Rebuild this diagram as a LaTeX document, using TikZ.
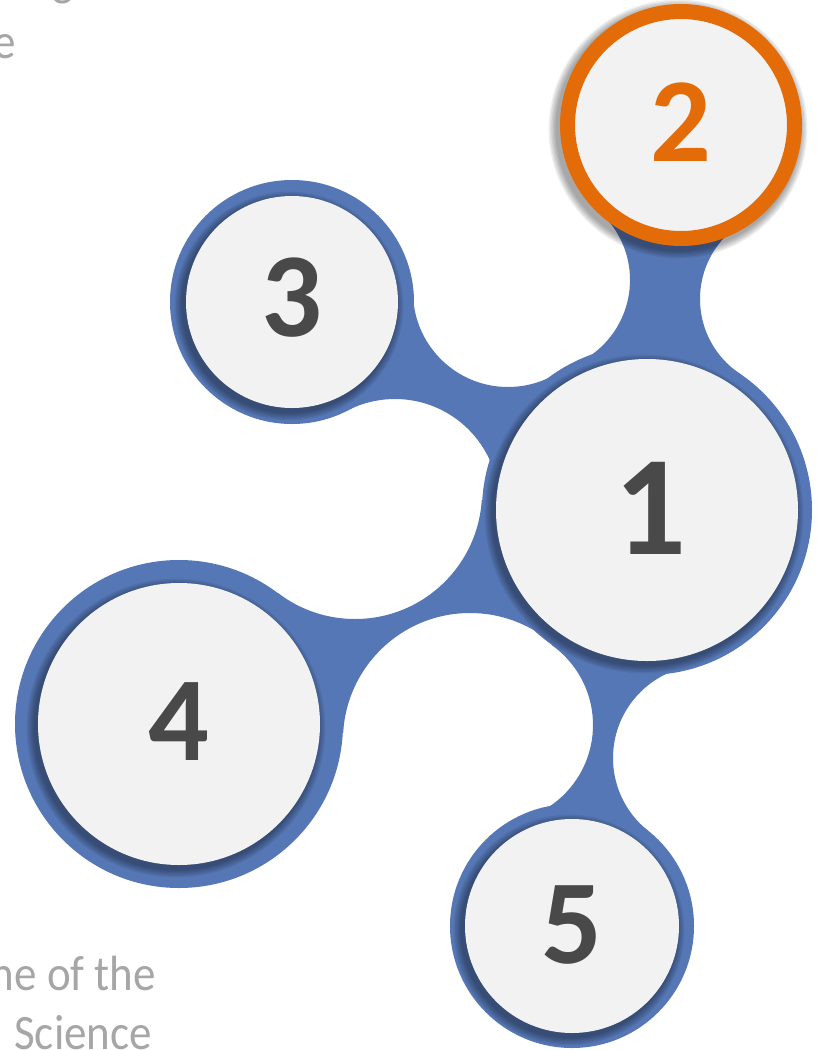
\documentclass[tikz,border=0pt]{standalone}
\usepackage{fontspec}
\setmainfont{Carlito}
\usetikzlibrary{calc}
\begin{document}
\begin{tikzpicture}[x=1pt,y=-1pt,
  bgtext/.style={anchor=base east,inner sep=0pt,text=textgray,font=\fontsize{45}{54}\selectfont},
  digit/.style={inner sep=0pt,text=digitgray,font=\bfseries\fontsize{120}{120}\selectfont},
  bigdigit/.style={digit,font=\bfseries\fontsize{142}{142}\selectfont},
  bluefill/.style={fill=nblue},
  innerfill/.style={fill=innergray}]
\definecolor{nblue}{HTML}{5677B6}
\definecolor{innergray}{HTML}{F2F2F2}
\definecolor{digitgray}{HTML}{494949}
\definecolor{norange}{HTML}{E36C09}
\definecolor{textgray}{HTML}{A6A6A6}
\useasboundingbox (0,0) rectangle (821,1050);
\fill[white] (0,0) rectangle (821,1050);
\newcommand\myshadow[3]{%
  \foreach \k in {1,...,6}{\fill[#3,opacity=0.065] ($(#1)+(-3,4)$) circle ({(#2+\k*1.4)*1pt});}}
\begin{scope}
\clip (0,0) rectangle (821,1050);
% background text fragments
\node[bgtext] (tg) at (74,-5) {\scalebox{1}[1.1]{g}};
\node[bgtext] (te) at (16,58) {\scalebox{1}[1.1]{e}};
\node[bgtext] (tl1) at (156,990) {\scalebox{1}[1.1]{ne of the}};
\node[bgtext] (tl2) at (152,1049) {\scalebox{1}[1.1]{Science}};
% circle centres
\coordinate (c1) at (647,510);
\coordinate (c2) at (681,125);
\coordinate (c3) at (292,302);
\coordinate (c4) at (179,724);
\coordinate (c5) at (572,926);
% fillet centres
\coordinate (f21l) at (538,280);
\coordinate (f21r) at (790,299);
\coordinate (f31a) at (508,292);
\coordinate (f31b) at (395,503);
\coordinate (f41a) at (355,492);
\coordinate (f41b) at (470,740);
\coordinate (f51l) at (495,725);
\coordinate (f51r) at (706,758);
% necks
\begin{scope}
\clip (c2) -- (f21l) -- (c1) -- (f21r) -- cycle;
\fill[bluefill,even odd rule] (-50,-50) rectangle (900,1100) (f21l) circle (92pt) (f21r) circle (90pt);
\end{scope}
\begin{scope}
\clip (c3) -- (f31a) -- (c1) -- (f31b) -- cycle;
\fill[bluefill,even odd rule] (-50,-50) rectangle (900,1100) (f31a) circle (95pt) (f31b) circle (104pt);
\end{scope}
\begin{scope}
\clip (c4) -- (f41a) -- (c1) -- (f41b) -- cycle;
\fill[bluefill,even odd rule] (-50,-50) rectangle (900,1100) (f41a) circle (127pt) (f41b) circle (127pt);
\end{scope}
\begin{scope}
\clip (c5) -- (f51l) -- (c1) -- (f51r) -- cycle;
\fill[bluefill,even odd rule] (-50,-50) rectangle (900,1100) (f51l) circle (98pt) (f51r) circle (93pt);
\end{scope}
% blue discs
\fill[bluefill] (c1) circle (165pt);
\fill[bluefill] (c2) circle (118pt);
\fill[bluefill] (c3) circle (122pt);
\fill[bluefill] (c4) circle (164pt);
\fill[bluefill] (c5) circle (122pt);
% shadows and inner discs
\myshadow{c1}{151}{black}
\fill[innerfill] (c1) circle (151pt);
\myshadow{c3}{106}{black}
\fill[innerfill] (c3) circle (106pt);
\myshadow{c4}{141}{black}
\fill[innerfill] (c4) circle (141pt);
\myshadow{c5}{107}{black}
\fill[innerfill] (c5) circle (107pt);
\myshadow{c2}{121}{black}
\filldraw[innerfill,draw=norange,line width=15pt] (c2) circle (113.5pt);
% labels
\node[bigdigit] (n1) at (650,508) {1};
\node[digit,text=norange] (n2) at (681,122) {2};
\node[digit] (n3) at (292,298) {3};
\node[digit] (n4) at (179,722) {4};
\node[digit] (n5) at (572,925) {5};
\end{scope}
\end{tikzpicture}
\end{document}
